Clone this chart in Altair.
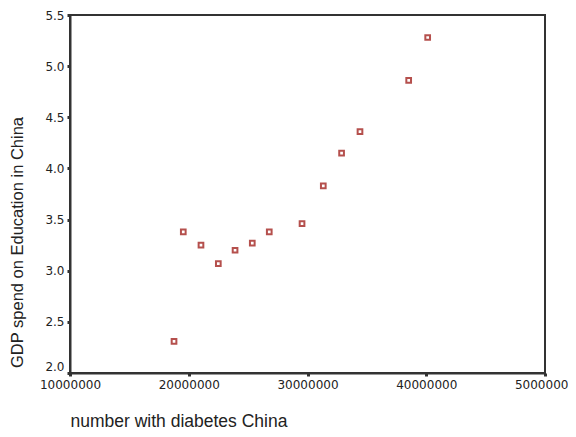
import altair as alt
import pandas as pd

diabetes = [18760000, 19540000, 21030000, 22490000, 23900000, 25350000, 26780000,
            29540000, 31330000, 32870000, 34420000, 38520000, 40120000]
gdp_edu = [2.31, 3.38, 3.25, 3.07, 3.20, 3.27, 3.38, 3.46, 3.83, 4.15, 4.36, 4.86, 5.28]

x_ticks = [10000000, 20000000, 30000000, 40000000, 50000000]
y_ticks = [2.0, 2.5, 3.0, 3.5, 4.0, 4.5, 5.0, 5.5]

df = pd.DataFrame({"x": diabetes, "y": gdp_edu})

chart = alt.Chart(df).mark_point(
    shape="square", filled=False, size=22, strokeWidth=2, color="#b5504d", opacity=1
).encode(
    x=alt.X("x:Q", scale=alt.Scale(domain=[10000000, 50000000], nice=False, zero=False),
            axis=alt.Axis(values=x_ticks, format="d", title="number with diabetes China",
                          titleX=0, titleY=48, titleAlign="left", titleBaseline="middle",
                          titleFont="Liberation Sans", titleFontSize=17.5, titleFontWeight="normal",
                          titleColor="#222222",
                          labelFont="DejaVu Sans", labelFontSize=12, labelColor="#222222",
                          labelPadding=3, labelFlush=False, labelOverlap=False,
                          domainColor="#333333", domainWidth=2, tickColor="#333333",
                          tickSize=3, tickWidth=3, grid=False)),
    y=alt.Y("y:Q", scale=alt.Scale(domain=[2.0, 5.5], nice=False, zero=False),
            axis=alt.Axis(values=y_ticks, format=".1f", title="GDP spend on Education in China",
                          titleX=-53, titleY=227, titleAngle=270, titleAlign="center",
                          titleBaseline="middle",
                          titleFont="Liberation Sans", titleFontSize=16.5, titleFontWeight="normal",
                          titleColor="#222222",
                          labelFont="DejaVu Sans", labelFontSize=12, labelColor="#222222",
                          labelBaseline={"expr": "datum.value == 2 ? 'bottom' : 'middle'"},
                          labelPadding=3, labelFlush=False, labelOverlap=False,
                          domainColor="#333333", domainWidth=2, tickColor="#333333",
                          tickSize=3, tickWidth=3, grid=False)),
).properties(
    width=475, height=358,
    background="white",
    autosize=alt.AutoSizeParams(type="none"),
    padding={"left": 62, "top": 7, "right": 23, "bottom": 56},
).configure_view(
    stroke="#333333", strokeWidth=2
)

chart.save("out.html", embed_options={"renderer": "svg", "actions": False})
